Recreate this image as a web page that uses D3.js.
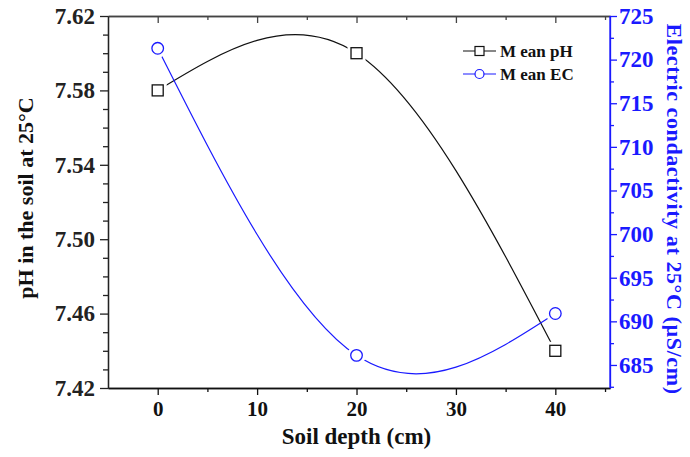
<!DOCTYPE html>
<html>
<head>
<meta charset="utf-8">
<script src="https://cdn.jsdelivr.net/npm/d3@7"></script>
<style>
  body { margin: 0; background: #fff; }
  text { font-family: "Liberation Serif", "Times New Roman", serif; font-weight: bold; }
</style>
</head>
<body>
<div class="chart"></div>
<script>
// soil depth (cm)
const depths = [0, 20, 40]
const meanPH = [7.58, 7.60, 7.44]
const meanEC = [721.3, 686.1, 690.9]
const phTicks = [7.42, 7.46, 7.50, 7.54, 7.58, 7.62]
const ecTicks = [685, 690, 695, 700, 705, 710, 715, 720, 725]
const depthTicks = [0, 10, 20, 30, 40]

const blue = '#1a1aff'
const margin = {top: 16, right: 80, bottom: 69, left: 108}
const width = 690 - margin.left - margin.right
const height = 457 - margin.top - margin.bottom

const x = d3.scaleLinear().domain([-5, 45.5]).range([0, width])
const yPH = d3.scaleLinear().domain([7.42, 7.62]).range([height, 0])
const yEC = d3.scaleLinear().domain([682.36, 725]).range([height, 0])

const svg = d3.select('.chart').append('svg')
    .attr('width', 690)
    .attr('height', 457)
  .append('g')
    .attr('transform', 'translate(' + margin.left + ',' + margin.top + ')')

// minor ticks
const minorX = [5, 15, 25, 35, 45]
const minorPH = d3.range(7.43, 7.62, 0.01).filter((d, i) => i % 4 !== 3)
const minorEC = [682.5, 687.5, 692.5, 697.5, 702.5, 707.5, 712.5, 717.5, 722.5]

const styleAxis = (g, color) => {
  g.select('.domain').attr('stroke', color).attr('stroke-width', 1.3)
  g.selectAll('.tick line').attr('stroke', color).attr('stroke-width', 1.3)
  g.selectAll('.tick text').attr('fill', color)
}

// bottom
svg.append('g')
    .attr('transform', 'translate(0,' + height + ')')
    .call(d3.axisBottom(x).tickValues(minorX).tickSize(4).tickFormat('').tickSizeOuter(0))
    .call(g => styleAxis(g, '#111'))
svg.append('g')
    .attr('transform', 'translate(0,' + height + ')')
    .call(d3.axisBottom(x).tickValues(depthTicks).tickSize(7).tickPadding(6).tickSizeOuter(0))
    .attr('font-size', 21)
    .call(g => styleAxis(g, '#111'))

// top (inward ticks, no labels)
svg.append('g')
    .call(d3.axisBottom(x).tickValues(minorX).tickSize(4).tickFormat('').tickSizeOuter(0))
    .call(g => styleAxis(g, '#444'))
svg.append('g')
    .call(d3.axisBottom(x).tickValues(depthTicks).tickSize(7).tickFormat('').tickSizeOuter(0))
    .call(g => styleAxis(g, '#444'))

// left pH axis
svg.append('g')
    .call(d3.axisLeft(yPH).tickValues(minorPH).tickSize(5).tickFormat('').tickSizeOuter(0))
    .call(g => styleAxis(g, '#222'))
svg.append('g')
    .call(d3.axisLeft(yPH).tickValues(phTicks).tickSize(8).tickPadding(5)
      .tickFormat(d3.format('.2f')).tickSizeOuter(0))
    .attr('font-size', 23)
    .call(g => styleAxis(g, '#222'))

// right EC axis
svg.append('g')
    .attr('transform', 'translate(' + width + ',0)')
    .call(d3.axisRight(yEC).tickValues(minorEC).tickSize(4).tickFormat('').tickSizeOuter(0))
    .call(g => styleAxis(g, blue))
svg.append('g')
    .attr('transform', 'translate(' + width + ',0)')
    .call(d3.axisRight(yEC).tickValues(ecTicks).tickSize(7).tickPadding(2).tickSizeOuter(0))
    .attr('font-size', 23)
    .call(g => styleAxis(g, blue))
    .call(g => g.select('.domain').attr('d', 'M0,' + height + 'V0'))

// curves
const phData = depths.map((d, i) => ({x: d, y: meanPH[i]}))
const ecData = depths.map((d, i) => ({x: d, y: meanEC[i]}))

svg.append('path')
    .datum(phData)
    .attr('fill', 'none')
    .attr('stroke', '#111')
    .attr('stroke-width', 1.2)
    .attr('d', d3.line().x(d => x(d.x)).y(d => yPH(d.y)).curve(d3.curveNatural))

svg.append('path')
    .datum(ecData)
    .attr('fill', 'none')
    .attr('stroke', blue)
    .attr('stroke-width', 1.2)
    .attr('d', d3.line().x(d => x(d.x)).y(d => yEC(d.y)).curve(d3.curveNatural))

// markers, with a small white gap round them
svg.selectAll('.sq-gap').data(phData).enter().append('rect')
    .attr('x', d => x(d.x) - 9).attr('y', d => yPH(d.y) - 9)
    .attr('width', 18).attr('height', 18).attr('fill', '#fff')
svg.selectAll('.sq').data(phData).enter().append('rect')
    .attr('x', d => x(d.x) - 5.5).attr('y', d => yPH(d.y) - 5.5)
    .attr('width', 11).attr('height', 11)
    .attr('fill', '#fff').attr('stroke', '#111').attr('stroke-width', 1.3)

svg.selectAll('.ci-gap').data(ecData).enter().append('circle')
    .attr('cx', d => x(d.x)).attr('cy', d => yEC(d.y)).attr('r', 9.5).attr('fill', '#fff')
svg.selectAll('.ci').data(ecData).enter().append('circle')
    .attr('cx', d => x(d.x)).attr('cy', d => yEC(d.y)).attr('r', 5.8)
    .attr('fill', '#fff').attr('stroke', blue).attr('stroke-width', 1.3)

// legend
const legend = svg.append('g').attr('transform', 'translate(355,35)')
const legItems = [
  {label: 'M ean pH', color: '#111', shape: 'square'},
  {label: 'M ean EC', color: blue, shape: 'circle'}
]
legItems.forEach((item, i) => {
  const g = legend.append('g').attr('transform', 'translate(0,' + (i * 23) + ')')
  g.append('line').attr('x1', 0).attr('x2', 33).attr('stroke', item.color).attr('stroke-width', 1.2)
  if (item.shape === 'square') {
    g.append('rect').attr('x', 12).attr('y', -4.5).attr('width', 9).attr('height', 9)
      .attr('fill', '#fff').attr('stroke', item.color).attr('stroke-width', 1.2)
  } else {
    g.append('circle').attr('cx', 16.5).attr('r', 4.5)
      .attr('fill', '#fff').attr('stroke', item.color).attr('stroke-width', 1.2)
  }
  g.append('text').attr('x', 37).attr('y', 6).attr('font-size', 17)
    .attr('fill', '#111').text(item.label)
})

// axis titles
svg.append('text')
    .attr('x', x(20)).attr('y', height + 56)
    .attr('text-anchor', 'middle').attr('font-size', 23).attr('fill', '#111')
    .text('Soil depth (cm)')

svg.append('text')
    .attr('transform', 'translate(' + (-75) + ',' + (height / 2 - 4) + ') rotate(-90)')
    .attr('text-anchor', 'middle').attr('font-size', 22).attr('fill', '#111')
    .text('pH in the soil at 25°C')

svg.append('text')
    .attr('transform', 'translate(' + (width + 57) + ',' + (height / 2 + 7) + ') rotate(90)')
    .attr('text-anchor', 'middle').attr('font-size', 22).attr('fill', blue)
    .attr('letter-spacing', 0.6)
    .text('Electric condactivity at 25°C (µS/cm)')
</script>
</body>
</html>
